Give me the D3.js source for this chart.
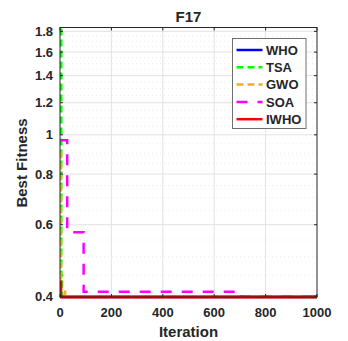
<!DOCTYPE html>
<html><head><meta charset="utf-8">
<script src="https://cdn.jsdelivr.net/npm/d3@7"></script>
<style>body{margin:0;background:#fff}svg{display:block}text{font-family:"Liberation Sans",Arial,sans-serif;font-weight:bold;fill:#262626}</style>
</head><body>
<script>
// Data: convergence curves as (iteration, best fitness) change points
const seriesNames = ["WHO", "TSA", "GWO", "SOA", "IWHO"];
const seriesColors = ["#0000ff", "#00ff00", "#edb120", "#ff00ff", "#ff0000"];
const whoIter = [1, 3, 10, 1000];
const whoVal  = [0.420, 0.3985, 0.3979, 0.3979];
const tsaIter = [1, 5, 8, 30, 1000];
const tsaVal  = [3.0, 0.45, 0.400, 0.3980, 0.3980];
const gwoIter = [1, 4, 20, 1000];
const gwoVal  = [0.905, 0.410, 0.3982, 0.3981];
const soaIter = [1, 28, 92, 700, 706, 1000];
const soaVal  = [0.970, 0.575, 0.410, 0.404, 0.3982, 0.3982];
const iwhoIter = [1, 3, 1000];
const iwhoVal  = [0.434, 0.3979, 0.3979];
const xTicks = [0, 200, 400, 600, 800, 1000];
const yTicks = [0.4, 0.6, 0.8, 1, 1.2, 1.4, 1.6, 1.8];
const yMinor = [0.45, 0.5, 0.55, 0.65, 0.7, 0.75, 0.85, 0.9, 0.95, 1.05, 1.1, 1.15, 1.25, 1.3, 1.35, 1.45, 1.5, 1.55, 1.65, 1.7, 1.75];

const W = 348, H = 341;
const L = 60, R = 317, T = 27.5, B = 297;
const svg = d3.select("body").append("svg").attr("width", W).attr("height", H);
const x = d3.scaleLinear().domain([0, 1000]).range([L, R]);
const y = d3.scaleLog().domain([0.3979, 1.84]).range([B, T]);

// grid
const g = svg.append("g");
g.selectAll(".mn").data(yMinor).join("line")
  .attr("x1", L).attr("x2", R).attr("y1", d => y(d)).attr("y2", d => y(d))
  .attr("stroke", "#e6e6e6").attr("stroke-width", 0.8).attr("stroke-dasharray", "1,3");
g.selectAll(".my").data(yTicks).join("line")
  .attr("x1", L).attr("x2", R).attr("y1", d => y(d)).attr("y2", d => y(d))
  .attr("stroke", "#e2e2e2").attr("stroke-width", 1);
g.selectAll(".mx").data(xTicks.slice(1, -1)).join("line")
  .attr("y1", T).attr("y2", B).attr("x1", d => x(d)).attr("x2", d => x(d))
  .attr("stroke", "#e2e2e2").attr("stroke-width", 1);

// clip
svg.append("clipPath").attr("id", "clip").append("rect")
  .attr("x", L).attr("y", T).attr("width", R - L).attr("height", B - T + 3);

const all = [
  {it: whoIter, v: whoVal, dash: null},
  {it: tsaIter, v: tsaVal, dash: "7,4"},
  {it: gwoIter, v: gwoVal, dash: "7,4"},
  {it: soaIter, v: soaVal, dash: "11,10"},
  {it: iwhoIter, v: iwhoVal, dash: null}
];
const line = d3.line().x(d => x(d[0])).y(d => y(d[1])).curve(d3.curveStepAfter);
const lg = svg.append("g").attr("clip-path", "url(#clip)");
all.forEach((s, i) => {
  const pts = s.it.map((t, k) => [t, s.v[k]]);
  lg.append("path").attr("d", line(pts)).attr("fill", "none")
    .attr("stroke", seriesColors[i]).attr("stroke-width", i === 4 ? 3 : 2.5)
    .attr("stroke-dasharray", s.dash);
});

// axes box and ticks
const ax = svg.append("g").attr("stroke", "#262626").attr("stroke-width", 1);
ax.append("rect").attr("x", L).attr("y", T).attr("width", R - L).attr("height", B - T).attr("fill", "none");
xTicks.forEach(t => {
  ax.append("line").attr("x1", x(t)).attr("x2", x(t)).attr("y1", B).attr("y2", B - 3);
  ax.append("line").attr("x1", x(t)).attr("x2", x(t)).attr("y1", T).attr("y2", T + 3);
});
yTicks.forEach(t => {
  ax.append("line").attr("x1", L).attr("x2", L + 3).attr("y1", y(t)).attr("y2", y(t));
  ax.append("line").attr("x1", R).attr("x2", R - 3).attr("y1", y(t)).attr("y2", y(t));
});
svg.selectAll(".xl").data(xTicks).join("text")
  .attr("x", d => x(d)).attr("y", 317).attr("text-anchor", "middle")
  .attr("font-size", 13).text(d => d);
svg.selectAll(".yl").data(yTicks).join("text")
  .attr("x", 53).attr("y", d => y(d)).attr("dy", "0.36em").attr("text-anchor", "end")
  .attr("font-size", 13).text(d => d);

svg.append("text").attr("x", 188.5).attr("y", 21.5).attr("text-anchor", "middle")
  .attr("font-size", 15).text("F17");
svg.append("text").attr("x", 188.5).attr("y", 337).attr("text-anchor", "middle")
  .attr("font-size", 15).text("Iteration");
svg.append("text").attr("transform", "translate(27,163) rotate(-90)").attr("text-anchor", "middle")
  .attr("font-size", 15).text("Best Fitness");

// legend
const leg = svg.append("g");
leg.append("rect").attr("x", 232.5).attr("y", 38.5).attr("width", 73.5).attr("height", 90)
  .attr("fill", "#fff").attr("stroke", "#6e6e6e").attr("stroke-width", 1);
seriesNames.forEach((n, i) => {
  const yy = 50 + i * 17.3;
  leg.append("line").attr("x1", 236.5).attr("x2", 262.5).attr("y1", yy).attr("y2", yy)
    .attr("stroke", seriesColors[i]).attr("stroke-width", 2.5)
    .attr("stroke-dasharray", all[i].dash);
  leg.append("text").attr("x", 266).attr("y", yy).attr("dy", "0.36em")
    .attr("font-size", 13).text(n);
});
</script>
</body></html>
